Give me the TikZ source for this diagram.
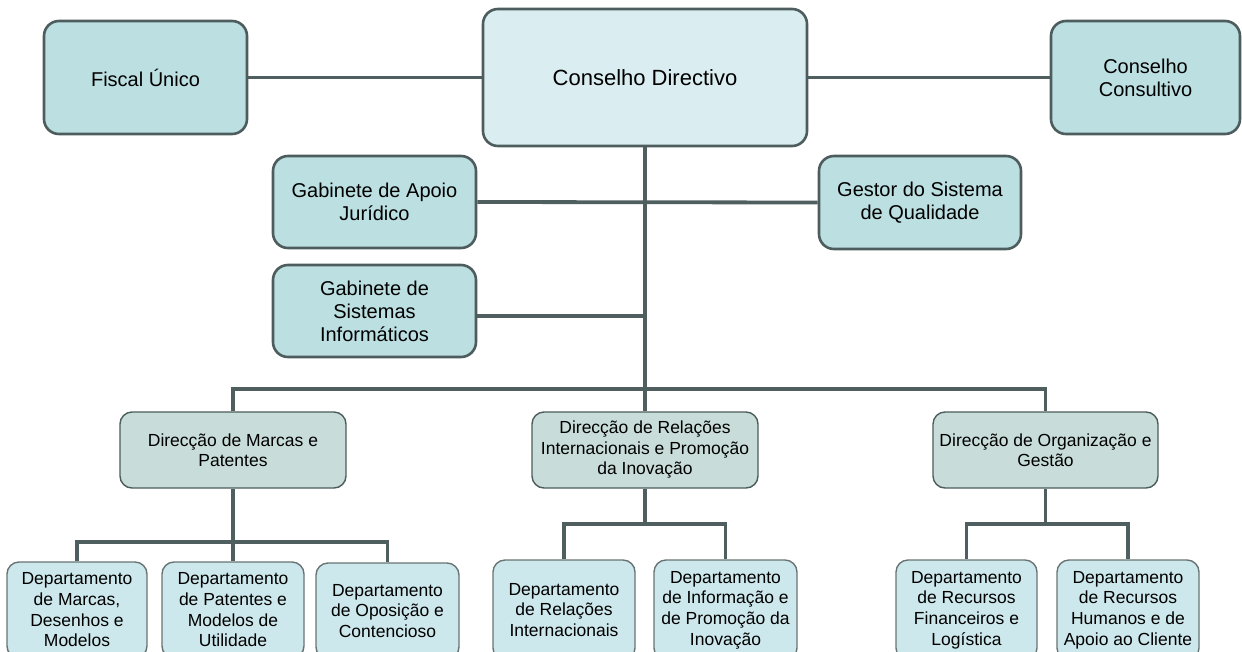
\documentclass[tikz,border=0pt]{standalone}
\usepackage{fontspec}
\setmainfont{Liberation Sans}
\definecolor{topfill}{HTML}{BCDFE2}
\definecolor{cdfill}{HTML}{DAEDF0}
\definecolor{dirfill}{HTML}{C8DDDA}
\definecolor{deptfill}{HTML}{CDE8EC}
\definecolor{edge}{HTML}{4D5C5C}
\definecolor{wire}{HTML}{4F5E5E}
\tikzset{
  topbox/.style={draw=edge, line width=2.6pt, fill=topfill, rounded corners=15pt,
    align=center, font=\fontsize{20}{23}\selectfont, inner sep=0pt},
  cdbox/.style={topbox, fill=cdfill, font=\fontsize{22}{27}\selectfont},
  dirbox/.style={draw=edge, line width=1.4pt, fill=dirfill, rounded corners=12pt,
    align=center, font=\fontsize{17.5}{20.5}\selectfont, inner sep=0pt},
  deptbox/.style={draw=edge!85, line width=1.4pt, fill=deptfill, rounded corners=12pt,
    align=center, font=\fontsize{17.5}{20.7}\selectfont, inner sep=0pt},
  wireline/.style={draw=wire, line width=3.8pt},
}
\begin{document}
\begin{tikzpicture}[x=1pt,y=-1pt]
\useasboundingbox (0,0) rectangle (1242,651);
\clip (0,0) rectangle (1242,651);
\fill[white] (0,0) rectangle (1242,651);

% top level
\node[cdbox, minimum width=324, minimum height=137] (cd) at (645,77.5) {Conselho Directivo};
\node[topbox, minimum width=203, minimum height=113] (fiscal) at (145.5,77.5) {Fiscal Único};
\node[topbox, minimum width=189, minimum height=113] (consult) at (1145.5,77.5) {Conselho\\Consultivo};
\node[topbox, minimum width=203, minimum height=92] (apoio) at (374.5,202) {Gabinete de Apoio\\Jurídico};
\node[topbox, minimum width=202, minimum height=93] (gestor) at (920,202.5) {Gestor do Sistema\\de Qualidade};
\node[topbox, minimum width=203, minimum height=92] (sist) at (374.5,311) {Gabinete de\\Sistemas\\Informáticos};

% directorates
\node[dirbox, minimum width=226, minimum height=76] (dmp) at (233,450) {Direcção de Marcas e\\Patentes};
\node[dirbox, minimum width=226, minimum height=76] (dri) at (645,450) {Direcção de Relações\\Internacionais e Promoção\\da Inovação};
\node[dirbox, minimum width=225, minimum height=76] (dog) at (1045.5,450) {Direcção de Organização e\\Gestão};

% departments
\node[deptbox, minimum width=140, minimum height=96] (d1) at (77,610) {Departamento\\de Marcas,\\Desenhos e\\Modelos};
\node[deptbox, minimum width=142, minimum height=96] (d2) at (233,610) {Departamento\\de Patentes e\\Modelos de\\Utilidade};
\node[deptbox, minimum width=143, minimum height=96] (d3) at (387.5,611) {Departamento\\de Oposição e\\Contencioso};
\node[deptbox, minimum width=142, minimum height=100] (d4) at (564,610) {Departamento\\de Relações\\Internacionais};
\node[deptbox, minimum width=143, minimum height=100] (d5) at (725.5,610) {Departamento\\de Informação e\\de Promoção da\\Inovação};
\node[deptbox, minimum width=141, minimum height=100] (d6) at (966.5,610) {Departamento\\de Recursos\\Financeiros e\\Logística};
\node[deptbox, minimum width=142, minimum height=100] (d7) at (1128,610) {Departamento\\de Recursos\\Humanos e de\\Apoio ao Cliente};

% junction coordinates
\coordinate (bus) at (645,389);
\coordinate (sub1) at (233,542);
\coordinate (sub2) at (645,524);
\coordinate (sub3) at (1045.5,524);

% connectors
\draw[wireline] (fiscal.east) -- (cd.west);
\draw[wireline] (cd.east) -- (consult.west);
\draw[wireline] (cd.south) -- (bus);
\draw[wireline] (apoio.east) -- (gestor.west);
\draw[wireline] ([yshift=-5pt]sist.east) -- ([yshift=-5pt]sist.east -| cd.south);
\draw[wireline] (dmp.north) -- (dmp.north |- bus) -- (dog.north |- bus) -- (dog.north);
\draw[wireline] (bus) -- (dri.north);

\draw[wireline] (dmp.south) -- (sub1);
\draw[wireline] (d1.north) -- (d1.north |- sub1) -- (d3.north |- sub1) -- (d3.north);
\draw[wireline] (sub1) -- (d2.north);

\draw[wireline] (dri.south) -- (sub2);
\draw[wireline] (d4.north) -- (d4.north |- sub2) -- (d5.north |- sub2) -- (d5.north);

\draw[wireline] (dog.south) -- (sub3);
\draw[wireline] (d6.north) -- (d6.north |- sub3) -- (d7.north |- sub3) -- (d7.north);
\end{tikzpicture}
\end{document}
